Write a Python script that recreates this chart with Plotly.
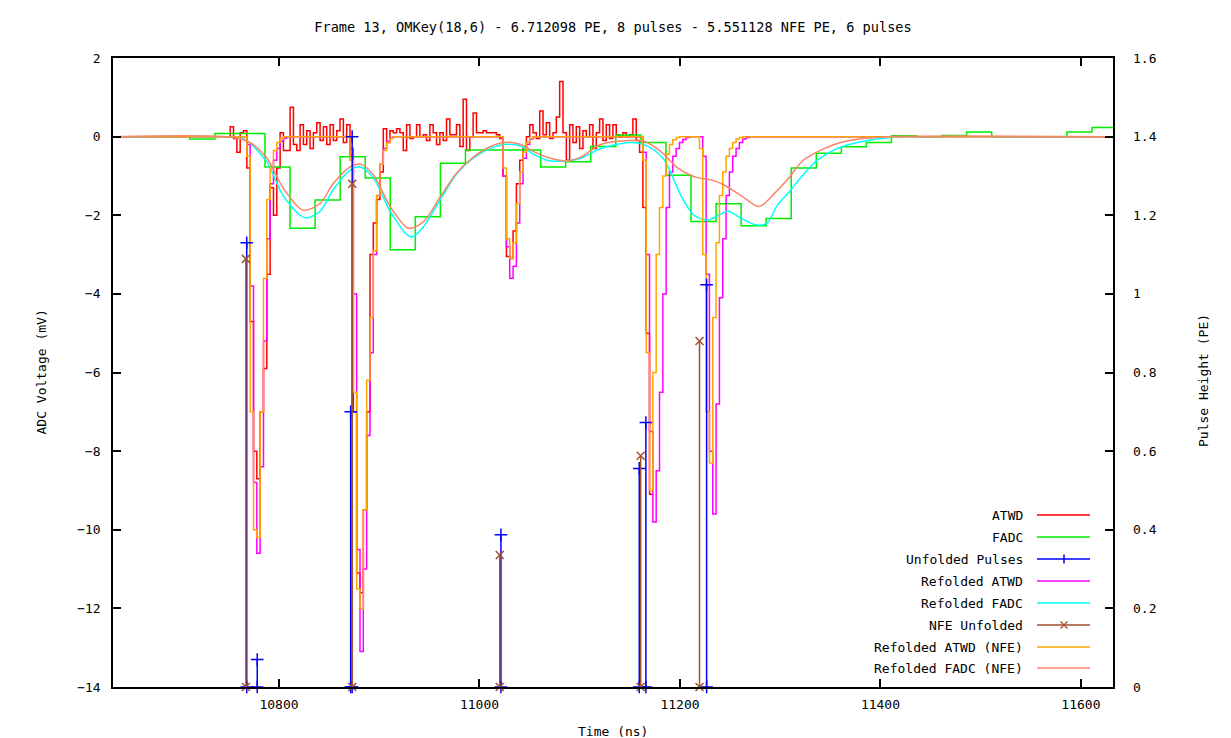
import plotly.graph_objects as go

TITLE = "Frame 13, OMKey(18,6) - 6.712098 PE, 8 pulses - 5.551128 NFE PE, 6 pulses"
X_RANGE = [10634.4, 11632.0]
Y_RANGE = [-14, 2]
Y2_RANGE = [0, 1.6]
X_TICKS = [10800, 11000, 11200, 11400, 11600]

# ATWD waveform (mV), 3.32 ns bins
ATWD_START = 10748.0
ATWD_BIN = 3.32
ATWD_MV = [
    0.0, 0.25, -0.05, -0.4, 0.1, 0.15, -0.8, -4.7, -8.0, -8.7,
    -7.0, -5.9, -3.5, -1.3, -2.0, -0.8, 0.1, -0.35, -0.35, 0.75,
    -0.2, -0.35, 0.3, -0.2, 0.15, -0.3, 0.1, 0.35, -0.1, 0.25,
    -0.2, 0.3, -0.1, 0.15, 0.45, -0.15, 0.3, -0.5, -7.0, -11.1,
    -11.6, -9.5, -7.0, -3.0, -2.2, -1.6, -0.9, 0.2, -0.15, 0.15,
    0.1, 0.2, 0.1, -0.35, 0.3, -0.05, 0.0, 0.3, 0.0, 0.05,
    -0.1, 0.3, 0.1, -0.2, 0.1, -0.1, 0.45, 0.05, 0.05, 0.3,
    -0.25, 0.95, -0.35, 0.0, 0.6, 0.1, 0.1, 0.15, 0.1, 0.1,
    0.1, 0.05, -0.05, -1.0, -3.05, -3.1, -2.4, -1.2, -0.6, -0.3,
    0.0, 0.3, 0.1, -0.05, 0.65, 0.05, 0.35, -0.05, 0.1, 0.5,
    1.4, 0.1, -0.6, 0.3, -0.15, 0.25, -0.3, 0.15, 0.0, 0.3,
    -0.3, 0.1, 0.45, -0.1, 0.3, -0.05, 0.3, 0.05, 0.0, 0.1,
    0.0, 0.05, 0.45, -0.1, -0.4, -1.8, -5.0, -9.1,
]

# FADC waveform (mV), 25 ns bins
FADC_START = 10636.0
FADC_BIN = 25.0
FADC_MV = [
    0.0, 0.0, 0.0, -0.06, 0.08, 0.08, -0.77, -2.33, -1.61, -0.51,
    -1.05, -2.88, -2.04, -0.68, -0.34, -0.34, -0.34, -0.77, -0.64, -0.25,
    0.04, -0.15, -0.98, -2.16, -1.71, -2.27, -2.08, -0.80, -0.42, -0.26,
    -0.15, 0.02, 0.0, 0.03, 0.12, 0.0, 0.0, 0.0, 0.12, 0.23,
]

# Refolded ATWD (mV): pulse segments on the ATWD bin grid (first bin index + values)
REFOLD_ATWD_START_BIN = [5, 36, 82, 124, 142]
REFOLD_ATWD_MV = [
    [0, -0.2, -3.8, -8.8, -10.6, -8.4, -5.2, -2.6, -1.2, -0.6, -0.3, -0.12, -0.04, 0],
    [0, -0.3, -4.0, -10.5, -13.1, -11.0, -7.6, -5.5, -3.0, -1.5, -0.7, -0.3, -0.12, -0.04, 0],
    [0, -1.0, -2.8, -3.6, -3.3, -2.2, -1.2, -0.55, -0.2, -0.06, 0],
    [0, -0.4, -3.0, -7.5, -9.8, -8.5, -6.5, -4.0, -1.8, -0.9, -0.5, -0.3, -0.15, -0.07, -0.02, 0],
    [0, -0.5, -3.5, -8.0, -9.6, -6.8, -4.1, -2.6, -1.5, -0.9, -0.5, -0.3, -0.15, -0.06, -0.02, 0],
]

# Refolded ATWD (NFE) (mV)
REFOLD_ATWD_NFE_START_BIN = [5, 36, 82, 124, 141]
REFOLD_ATWD_NFE_MV = [
    [0, -0.5, -7.0, -10.0, -10.2, -7.0, -3.6, -1.6, -0.8, -0.35, -0.15, -0.05, 0],
    [0, -0.6, -6.5, -11.5, -12.0, -9.5, -6.2, -4.6, -2.9, -1.5, -0.7, -0.35, -0.15, -0.05, 0],
    [0, -0.8, -2.6, -3.1, -2.7, -1.7, -0.9, -0.4, -0.15, -0.05, 0],
    [0, -0.6, -5.5, -9.0, -6.0, -3.0, -1.8, -1.0, -0.45, -0.2, -0.08, -0.02, 0],
    [0, -0.3, -3.0, -7.0, -8.3, -4.6, -2.7, -1.5, -0.9, -0.5, -0.3, -0.15, -0.06, -0.02, 0],
]

# Refolded FADC (smooth)
REFOLD_FADC_T = [
    10636, 10740, 10760, 10768, 10788, 10804, 10821, 10828, 10841, 10854,
    10871, 10881, 10894, 10911, 10928, 10933, 10944, 10961, 10978, 10994,
    11011, 11024, 11041, 11054, 11071, 11084, 11101, 11121, 11151, 11168,
    11184, 11201, 11214, 11228, 11248, 11261, 11277, 11287, 11297, 11309,
    11323, 11337, 11357, 11380, 11410, 11440, 11632,
]
REFOLD_FADC_MV = [
    0.0, 0.0, -0.03, -0.1, -0.65, -1.5, -2.0, -2.07, -1.9, -1.35,
    -0.85, -0.77, -1.05, -1.9, -2.5, -2.55, -2.3, -1.6, -0.92, -0.54,
    -0.3, -0.2, -0.24, -0.45, -0.62, -0.62, -0.55, -0.3, -0.15, -0.25,
    -0.58, -1.5, -2.0, -2.12, -1.9, -2.08, -2.25, -2.2, -1.75, -1.4,
    -0.97, -0.6, -0.3, -0.13, -0.02, 0.0, 0.0,
]

# Refolded FADC (NFE) (smooth)
REFOLD_FADC_NFE_T = [
    10636, 10755, 10771, 10788, 10804, 10824, 10841, 10854, 10871, 10881,
    10894, 10911, 10929, 10944, 10961, 10978, 10994, 11011, 11024, 11041,
    11054, 11071, 11088, 11101, 11121, 11151, 11164, 11181, 11198, 11218,
    11231, 11244, 11261, 11279, 11294, 11307, 11323, 11340, 11360, 11383,
    11410, 11632,
]
REFOLD_FADC_NFE_MV = [
    0.0, -0.02, -0.15, -0.55, -1.3, -1.87, -1.7, -1.2, -0.77, -0.7,
    -0.97, -1.78, -2.33, -2.17, -1.53, -0.9, -0.52, -0.25, -0.15, -0.2,
    -0.38, -0.55, -0.62, -0.52, -0.2, -0.1, -0.12, -0.38, -0.8, -1.05,
    -1.1, -1.23, -1.5, -1.78, -1.45, -1.1, -0.6, -0.35, -0.15, -0.05,
    0.0, 0.0,
]

# Unfolded pulses (PE)
PULSE_T = [10767.8, 10778.3, 10871.5, 10873.0, 11021.4, 11159.4, 11166.0, 11226.6]
PULSE_PE = [1.13, 0.07, 0.70, 1.40, 0.387, 0.556, 0.673, 1.023]

# NFE unfolded pulses (PE)
NFE_PULSE_T = [10767.0, 10873.1, 11020.2, 11160.8, 11219.5]
NFE_PULSE_PE = [1.089, 1.28, 0.336, 0.588, 0.88]

LEGEND_NAMES = ["ATWD", "FADC", "Unfolded Pulses", "Refolded ATWD", "Refolded FADC",
                "NFE Unfolded", "Refolded ATWD (NFE)", "Refolded FADC (NFE)"]
COLORS = ["#ff0000", "#00ee00", "#0000ff", "#ff00ff", "#00ffff",
          "#a0522d", "#ffa500", "#fa8466"]
MARKS = [None, None, "+", None, None, "x", None, None]

FONT = "DejaVu Sans Mono"

# ---------- build ----------
atwd_x = [ATWD_START + k * ATWD_BIN for k in range(len(ATWD_MV) + 1)]
atwd_y = ATWD_MV + [ATWD_MV[-1]]

fadc_x = [FADC_START + k * FADC_BIN for k in range(len(FADC_MV) + 1)]
fadc_y = FADC_MV + [FADC_MV[-1]]


def segments_to_xy(starts, segs):
    xs = [X_RANGE[0]]
    ys = [0.0]
    for s, vals in zip(starts, segs):
        for i, v in enumerate(vals):
            xs.append(ATWD_START + (s + i) * ATWD_BIN)
            ys.append(v)
    xs.append(X_RANGE[1])
    ys.append(0.0)
    return xs, ys


mag_x, mag_y = segments_to_xy(REFOLD_ATWD_START_BIN, REFOLD_ATWD_MV)
org_x, org_y = segments_to_xy(REFOLD_ATWD_NFE_START_BIN, REFOLD_ATWD_NFE_MV)


def impulses(ts, hs):
    xs, ys = [], []
    for t, h in zip(ts, hs):
        xs += [t, t, None]
        ys += [0, h, None]
    return xs, ys


pul_x, pul_y = impulses(PULSE_T, PULSE_PE)
nfe_x, nfe_y = impulses(NFE_PULSE_T, NFE_PULSE_PE)

LW = 1.5
fig = go.Figure()
fig.add_trace(go.Scatter(x=atwd_x, y=atwd_y, mode="lines", line=dict(color=COLORS[0], width=LW, shape="hv")))
fig.add_trace(go.Scatter(x=fadc_x, y=fadc_y, mode="lines", line=dict(color=COLORS[1], width=LW, shape="hv")))
fig.add_trace(go.Scatter(x=mag_x, y=mag_y, mode="lines", line=dict(color=COLORS[3], width=LW, shape="hv")))
fig.add_trace(go.Scatter(x=REFOLD_FADC_T, y=REFOLD_FADC_MV, mode="lines",
                         line=dict(color=COLORS[4], width=LW, shape="spline", smoothing=0.8)))
fig.add_trace(go.Scatter(x=org_x, y=org_y, mode="lines", line=dict(color=COLORS[6], width=LW, shape="hv")))
fig.add_trace(go.Scatter(x=REFOLD_FADC_NFE_T, y=REFOLD_FADC_NFE_MV, mode="lines",
                         line=dict(color=COLORS[7], width=LW, shape="spline", smoothing=0.8)))
fig.add_trace(go.Scatter(x=pul_x, y=pul_y, yaxis="y2", mode="lines+markers", cliponaxis=False,
                         line=dict(color=COLORS[2], width=LW),
                         marker=dict(symbol="cross-thin", size=9, line=dict(color=COLORS[2], width=1.5))))
fig.add_trace(go.Scatter(x=nfe_x, y=nfe_y, yaxis="y2", mode="lines+markers", cliponaxis=False,
                         line=dict(color=COLORS[5], width=LW),
                         marker=dict(symbol="x-thin", size=8, line=dict(color=COLORS[5], width=1.5))))

# target plot-area geometry in page pixels; the page body adds an 8 px offset
OFF = 8
FIG_W, FIG_H = 1231, 738
L, R, T, B = 113, 1113, 58, 687
W, H = R - L, B - T


def px(xp):
    return (xp - L) / W


def py(yp):
    return (B - yp) / H


shapes = []
annotations = []
row_y = [515, 537, 559, 581, 603, 625, 647, 668]
for name, color, mark, yy in zip(LEGEND_NAMES, COLORS, MARKS, row_y):
    annotations.append(dict(x=px(1025), y=py(yy), xref="paper", yref="paper", text=name,
                            showarrow=False, xanchor="right", yanchor="middle",
                            font=dict(family=FONT, size=13, color="black")))
    shapes.append(dict(type="line", xref="paper", yref="paper", x0=px(1037), x1=px(1090),
                       y0=py(yy), y1=py(yy), line=dict(color=color, width=LW)))
    if mark == "+":
        shapes.append(dict(type="line", xref="paper", yref="paper", x0=px(1064), x1=px(1064),
                           y0=py(yy - 4.5), y1=py(yy + 4.5), line=dict(color=color, width=1.5)))
    elif mark == "x":
        shapes.append(dict(type="line", xref="paper", yref="paper", x0=px(1060.5), x1=px(1067.5),
                           y0=py(yy - 3.5), y1=py(yy + 3.5), line=dict(color=color, width=1.2)))
        shapes.append(dict(type="line", xref="paper", yref="paper", x0=px(1060.5), x1=px(1067.5),
                           y0=py(yy + 3.5), y1=py(yy - 3.5), line=dict(color=color, width=1.2)))

annotations.append(dict(x=px(41), y=0.5, xref="paper", yref="paper", text="ADC Voltage (mV)",
                        textangle=-90, showarrow=False, xanchor="center", yanchor="middle",
                        font=dict(family=FONT, size=13, color="black")))
annotations.append(dict(x=px(1203), y=py(381), xref="paper", yref="paper", text="Pulse Height (PE)",
                        textangle=-90, showarrow=False, xanchor="center", yanchor="middle",
                        font=dict(family=FONT, size=13, color="black")))
annotations.append(dict(x=0.5, y=py(722), xref="paper", yref="paper", text="Time (ns)",
                        showarrow=False, xanchor="center", yanchor="top",
                        font=dict(family=FONT, size=13, color="black")))

tickfont = dict(family=FONT, size=13, color="black")
fig.update_layout(
    width=FIG_W, height=FIG_H,
    margin=dict(l=L - OFF, r=FIG_W - R + OFF, t=T - OFF, b=FIG_H - B + OFF, autoexpand=False),
    paper_bgcolor="white", plot_bgcolor="white",
    showlegend=False,
    title=dict(text=TITLE, x=0.5, xref="paper", xanchor="center", y=1 - (27 - OFF) / FIG_H,
               yanchor="middle", font=dict(family=FONT, size=13.6, color="black")),
    xaxis=dict(range=X_RANGE, tickvals=X_TICKS, tickformat="d", ticks="inside", ticklen=8, tickwidth=1.5,
               tickcolor="black", showline=True, linecolor="black", linewidth=1.5, mirror="ticks",
               showgrid=False, zeroline=False, tickfont=tickfont, ticklabelstandoff=5),
    yaxis=dict(range=Y_RANGE, dtick=2, ticks="inside", ticklen=8, tickwidth=1.5,
               tickcolor="black", showline=True, linecolor="black", linewidth=1.5, mirror=True,
               showgrid=False, zeroline=False, tickfont=tickfont, ticklabelstandoff=8),
    yaxis2=dict(range=Y2_RANGE, dtick=0.2, overlaying="y", side="right", ticks="inside",
                ticklen=8, tickwidth=1.5, tickcolor="black", showline=False,
                showgrid=False, zeroline=False, tickfont=tickfont, ticklabelstandoff=19),
    shapes=shapes,
    annotations=annotations,
)

fig.write_html("out.html")
